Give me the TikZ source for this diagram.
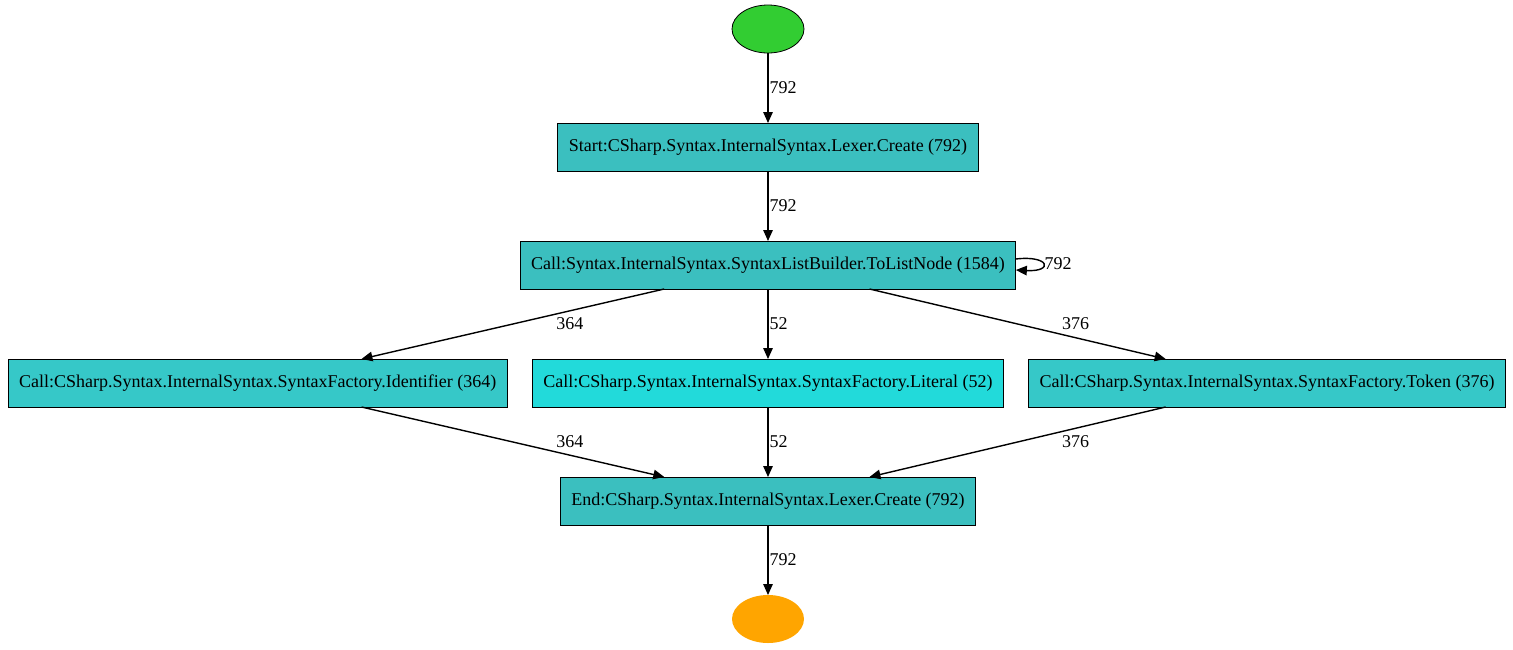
\documentclass[tikz,border=0pt]{standalone}
\usepackage{fontspec}
\setmainfont{Liberation Serif}
\usetikzlibrary{arrows.meta,positioning,shapes.geometric}
\definecolor{StartGreen}{HTML}{32CD32}
\definecolor{EndOrange}{HTML}{FFA500}
\definecolor{Teal}{HTML}{3BBFBF}
\definecolor{TealMid}{HTML}{36C8C8}
\definecolor{TealHot}{HTML}{22DADA}
\tikzset{
  callbox/.style={draw=black,fill=Teal,rectangle,minimum height=48pt,inner xsep=11pt,outer sep=0pt,font=\fontsize{18}{21}\selectfont,line width=0.8pt},
  startdot/.style={ellipse,draw=black,fill=StartGreen,minimum width=72pt,minimum height=48pt,outer sep=0pt,line width=0.8pt},
  enddot/.style={ellipse,fill=EndOrange,minimum width=72pt,minimum height=48pt,outer sep=0pt},
  flow/.style={-{Triangle[length=11pt,width=9.5pt]},draw=black,line width=1.4pt},
  countlbl/.style={font=\fontsize{18}{21}\selectfont,inner sep=1pt}
}
\begin{document}
\begin{tikzpicture}[x=1pt,y=1pt,node distance=70pt and 25pt]
  \useasboundingbox (0,0) rectangle (1513,-649);
  \node[startdot] (begin) at (768,-29) {};
  \node[callbox,below=of begin] (lexstart) {Start:CSharp.Syntax.InternalSyntax.Lexer.Create (792)};
  \node[callbox,below=of lexstart] (tolist) {Call:Syntax.InternalSyntax.SyntaxListBuilder.ToListNode (1584)};
  \node[callbox,fill=TealHot,below=of tolist] (literal) {Call:CSharp.Syntax.InternalSyntax.SyntaxFactory.Literal (52)};
  \node[callbox,fill=TealMid,left=of literal] (ident) {Call:CSharp.Syntax.InternalSyntax.SyntaxFactory.Identifier (364)};
  \node[callbox,fill=TealMid,right=of literal] (token) {Call:CSharp.Syntax.InternalSyntax.SyntaxFactory.Token (376)};
  \node[callbox,below=of literal] (lexend) {End:CSharp.Syntax.InternalSyntax.Lexer.Create (792)};
  \node[enddot,below=of lexend] (finish) {};
  \draw[flow] (begin) -- (lexstart) node[countlbl,midway,right] {792};
  \draw[flow] (lexstart) -- (tolist) node[countlbl,midway,right] {792};
  \draw[flow] ([yshift=6pt]tolist.east) .. controls +(34pt,4pt) and +(38pt,-2pt) .. ([yshift=-5pt]tolist.east) node[countlbl,pos=0.5,right] {792};
  \draw[flow] (tolist) -- (ident) node[countlbl,midway,xshift=57pt] {364};
  \draw[flow] (tolist) -- (literal) node[countlbl,midway,right] {52};
  \draw[flow] (tolist) -- (token) node[countlbl,midway,xshift=58pt] {376};
  \draw[flow] (ident) -- (lexend) node[countlbl,midway,xshift=57pt] {364};
  \draw[flow] (literal) -- (lexend) node[countlbl,midway,right] {52};
  \draw[flow] (token) -- (lexend) node[countlbl,midway,xshift=58pt] {376};
  \draw[flow] (lexend) -- (finish) node[countlbl,midway,right] {792};
\end{tikzpicture}
\end{document}
